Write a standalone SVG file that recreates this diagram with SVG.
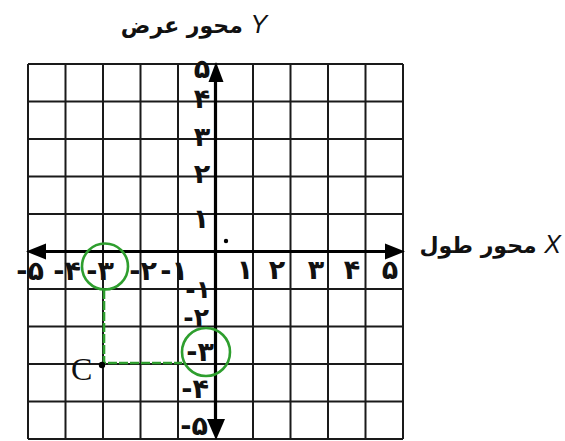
<svg xmlns="http://www.w3.org/2000/svg" width="565" height="441" viewBox="0 0 565 441">
<style>
.grid line{stroke:#1a1a1a;stroke-width:2}
.axis{stroke:#000;stroke-width:3.2}
.head{fill:#000}
.lbl{font-family:"DejaVu Sans",sans-serif;font-weight:bold;font-size:27px;fill:#111}
.sm{font-size:25px}
.title{font-family:"DejaVu Sans",sans-serif;font-weight:bold;font-size:22px;fill:#111}
.latin{font-family:"Liberation Sans",sans-serif;font-style:italic;font-weight:normal;font-size:25px}
.green{stroke:#2e9e2e;fill:none;stroke-width:2.6}
.dash{stroke:#2e9e2e;stroke-width:2.6;stroke-dasharray:9 2;fill:none}
</style>
<rect width="565" height="441" fill="#fff"/>
<g id="grid" class="grid">
<line x1="28" y1="64" x2="28" y2="439"/>
<line x1="65.5" y1="64" x2="65.5" y2="439"/>
<line x1="103" y1="64" x2="103" y2="439"/>
<line x1="140.5" y1="64" x2="140.5" y2="439"/>
<line x1="178" y1="64" x2="178" y2="439"/>
<line x1="253" y1="64" x2="253" y2="439"/>
<line x1="290.5" y1="64" x2="290.5" y2="439"/>
<line x1="328" y1="64" x2="328" y2="439"/>
<line x1="365.5" y1="64" x2="365.5" y2="439"/>
<line x1="403" y1="64" x2="403" y2="439"/>
<line x1="28" y1="64" x2="403" y2="64"/>
<line x1="28" y1="101.5" x2="403" y2="101.5"/>
<line x1="28" y1="139" x2="403" y2="139"/>
<line x1="28" y1="176.5" x2="403" y2="176.5"/>
<line x1="28" y1="214" x2="403" y2="214"/>
<line x1="28" y1="289" x2="403" y2="289"/>
<line x1="28" y1="326.5" x2="403" y2="326.5"/>
<line x1="28" y1="364" x2="403" y2="364"/>
<line x1="28" y1="401.5" x2="403" y2="401.5"/>
<line x1="28" y1="439" x2="403" y2="439"/>
</g>
<g id="connectors">
<line class="axis" x1="215.5" y1="70" x2="215.5" y2="432"/>
<line class="axis" x1="34" y1="251.5" x2="396" y2="251.5"/>
<polygon class="head" points="216,62 208.5,82 223.5,82"/>
<polygon class="head" points="216,440 207,419 225,419"/>
<polygon class="head" points="26,251.5 46,243.5 46,259.5"/>
<polygon class="head" points="405,251.5 385,243.5 385,259.5"/>
<path class="dash" d="M104,290 V363 H182"/>
</g>
<g id="y-title"><text class="title" x="194" y="33" text-anchor="middle">محور عرض <tspan class="latin">Y</tspan></text></g>
<g id="x-title"><text class="title" x="561" y="253" text-anchor="end">محور طول <tspan class="latin">X</tspan></text></g>
<g id="y-pos-labels" class="lbl" text-anchor="middle">
<text x="202" y="78">۵</text>
<text x="202" y="108">۴</text>
<text x="202" y="146">۳</text>
<text x="202" y="183">۲</text>
<text x="201" y="228">۱</text>
</g>
<g id="x-pos-labels" class="lbl" text-anchor="middle">
<text x="245" y="279">۱</text>
<text x="277" y="279">۲</text>
<text x="316" y="279">۳</text>
<text x="352" y="279">۴</text>
<text x="390" y="279">۵</text>
</g>
<g id="x-neg-labels" class="lbl" text-anchor="end">
<text x="44" y="280">-۵</text>
<text x="81" y="280">-۴</text>
<text x="114" y="280">-۳</text>
<text x="157" y="280">-۲</text>
<text x="188" y="280">-۱</text>
</g>
<g id="y-neg-labels" class="lbl" text-anchor="end">
<text class="sm" x="211" y="298">-۱</text>
<text class="sm" x="209" y="326">-۲</text>
<text x="214" y="361">-۳</text>
<text x="209" y="398">-۴</text>
<text x="208" y="435">-۵</text>
</g>
<g id="circle-x"><circle class="green" cx="105" cy="266.5" r="23"/></g>
<g id="circle-y"><circle class="green" cx="206" cy="352" r="24"/></g>
<g id="origin-dot"><circle cx="226" cy="241" r="2.2" fill="#000"/></g>
<g id="point-C">
<circle cx="102" cy="365" r="3.2" fill="#000"/>
<text x="71" y="380" font-family="Liberation Serif, serif" font-size="32" fill="#111">C</text>
</g>
</svg>
